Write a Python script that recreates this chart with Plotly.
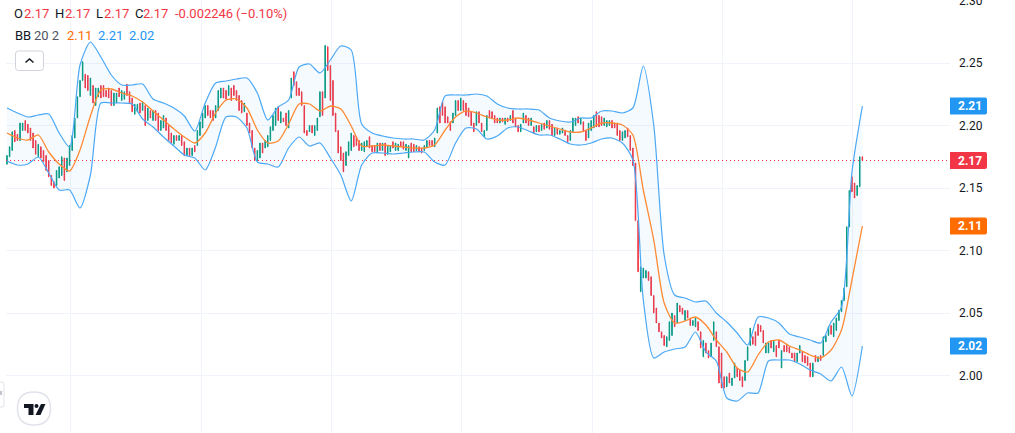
import plotly.graph_objects as go

FONT = "Roboto"
GREEN, RED, BLUE, ORANGE, INK = "#089981", "#F23645", "#2196F3", "#FF6D00", "#131722"

highs = [
 2.176,2.183,2.195,2.196,2.193,2.202,2.202,2.204,2.201,2.198,
 2.194,2.188,2.185,2.183,2.180,2.176,2.172,2.160,2.155,2.164,
 2.167,2.175,2.174,2.174,2.184,2.192,2.206,2.223,2.236,2.251,
 2.241,2.240,2.238,2.232,2.230,2.230,2.232,2.232,2.228,2.230,
 2.228,2.226,2.226,2.230,2.228,2.227,2.233,2.227,2.222,2.217,
 2.217,2.218,2.219,2.216,2.214,2.212,2.212,2.212,2.210,2.204,
 2.208,2.206,2.200,2.194,2.192,2.192,2.192,2.192,2.187,2.182,
 2.182,2.182,2.184,2.196,2.203,2.210,2.216,2.216,2.212,2.212,
 2.216,2.228,2.230,2.230,2.228,2.232,2.230,2.232,2.228,2.224,
 2.220,2.218,2.210,2.202,2.196,2.182,2.180,2.186,2.186,2.188,
 2.192,2.199,2.208,2.214,2.215,2.211,2.206,2.210,2.212,2.238,
 2.243,2.235,2.230,2.227,2.216,2.196,2.200,2.200,2.200,2.206,
 2.227,2.227,2.264,2.263,2.248,2.236,2.210,2.196,2.183,2.178,
 2.179,2.187,2.194,2.192,2.191,2.188,2.186,2.187,2.188,2.191,
 2.184,2.184,2.186,2.186,2.186,2.186,2.184,2.184,2.187,2.186,
 2.185,2.187,2.187,2.185,2.184,2.186,2.185,2.184,2.183,2.182,
 2.184,2.188,2.188,2.188,2.190,2.214,2.215,2.219,2.215,2.207,
 2.203,2.210,2.220,2.220,2.222,2.220,2.218,2.214,2.211,2.202,
 2.211,2.211,2.202,2.196,2.208,2.212,2.211,2.208,2.206,2.206,
 2.206,2.206,2.206,2.208,2.212,2.206,2.200,2.201,2.210,2.208,
 2.206,2.206,2.199,2.200,2.200,2.201,2.202,2.204,2.204,2.201,
 2.198,2.198,2.196,2.198,2.196,2.192,2.196,2.206,2.206,2.207,
 2.206,2.203,2.196,2.202,2.204,2.208,2.211,2.208,2.207,2.206,
 2.204,2.204,2.204,2.202,2.202,2.196,2.195,2.196,2.198,2.192,
 2.182,2.170,2.124,2.087,2.086,2.084,2.083,2.079,2.064,2.054,
 2.042,2.035,2.032,2.031,2.043,2.050,2.048,2.058,2.056,2.054,
 2.052,2.052,2.046,2.044,2.046,2.043,2.035,2.028,2.026,2.020,
 2.026,2.043,2.035,2.023,2.018,1.999,1.999,2.002,1.998,2.010,
 2.006,2.004,1.999,2.012,2.023,2.038,2.031,2.035,2.041,2.040,
 2.036,2.026,2.026,2.028,2.028,2.024,2.028,2.020,2.024,2.024,
 2.023,2.018,2.018,2.018,2.024,2.019,2.016,2.015,2.010,2.010,
 2.016,2.015,2.016,2.031,2.032,2.039,2.040,2.042,2.046,2.052,
 2.060,2.070,2.119,2.148,2.159,2.154,2.152,2.175,2.175,
]

lows = [
 2.169,2.175,2.180,2.187,2.188,2.188,2.196,2.196,2.194,2.188,
 2.182,2.177,2.175,2.174,2.171,2.164,2.159,2.152,2.150,2.152,
 2.158,2.160,2.156,2.163,2.168,2.180,2.190,2.206,2.223,2.236,
 2.230,2.228,2.224,2.218,2.216,2.223,2.222,2.223,2.223,2.222,
 2.216,2.216,2.218,2.223,2.220,2.221,2.224,2.218,2.211,2.209,
 2.211,2.210,2.212,2.200,2.204,2.206,2.204,2.204,2.196,2.196,
 2.198,2.196,2.188,2.186,2.185,2.188,2.188,2.184,2.176,2.176,
 2.176,2.176,2.179,2.184,2.192,2.198,2.206,2.208,2.206,2.204,
 2.206,2.212,2.222,2.222,2.221,2.224,2.220,2.224,2.220,2.212,
 2.210,2.211,2.200,2.194,2.182,2.172,2.172,2.174,2.178,2.182,
 2.183,2.188,2.196,2.200,2.204,2.202,2.203,2.200,2.198,2.222,
 2.232,2.224,2.224,2.216,2.194,2.192,2.195,2.194,2.192,2.196,
 2.207,2.208,2.222,2.244,2.220,2.208,2.195,2.178,2.172,2.163,
 2.168,2.176,2.180,2.183,2.184,2.180,2.180,2.179,2.183,2.182,
 2.179,2.179,2.178,2.180,2.180,2.176,2.177,2.179,2.182,2.180,
 2.180,2.183,2.181,2.180,2.174,2.179,2.179,2.180,2.179,2.178,
 2.180,2.182,2.184,2.184,2.183,2.194,2.202,2.208,2.202,2.202,
 2.196,2.202,2.208,2.212,2.212,2.212,2.208,2.207,2.200,2.195,
 2.200,2.202,2.195,2.191,2.196,2.206,2.206,2.202,2.202,2.202,
 2.203,2.201,2.203,2.204,2.202,2.199,2.195,2.195,2.202,2.202,
 2.200,2.200,2.194,2.195,2.195,2.196,2.197,2.198,2.197,2.192,
 2.192,2.193,2.193,2.194,2.192,2.187,2.188,2.195,2.200,2.202,
 2.201,2.195,2.188,2.190,2.196,2.198,2.199,2.199,2.200,2.200,
 2.199,2.200,2.198,2.198,2.192,2.188,2.188,2.190,2.191,2.180,
 2.168,2.124,2.083,2.067,2.078,2.078,2.076,2.064,2.050,2.042,
 2.035,2.030,2.024,2.023,2.028,2.032,2.039,2.042,2.051,2.049,
 2.044,2.046,2.040,2.040,2.039,2.036,2.022,2.015,2.018,2.014,
 2.015,2.028,2.023,1.994,1.990,1.990,1.991,1.994,1.992,1.998,
 1.999,1.996,1.991,1.996,2.012,2.024,2.025,2.024,2.032,2.035,
 2.026,2.018,2.018,2.022,2.019,2.015,2.022,2.006,2.019,2.019,
 2.018,2.014,2.011,2.011,2.018,2.011,2.010,2.008,1.999,1.999,
 2.011,2.011,2.012,2.016,2.027,2.032,2.033,2.031,2.036,2.044,
 2.051,2.060,2.071,2.119,2.147,2.142,2.144,2.151,2.172,
]

# g = close above open, r = close below open
directions = "".join([
 "gggrrggrrr","rrgrrrrrrg","ggrggggggg","rrgrggrrrr","rggrggrrrg",
 "grgrgrgrrg","grrrgrgrrg","rgrggggrrr","gggrrgrrrr","rgrrrrggrg",
 "ggggrgrrgg","rrrrrrgrgg","grgrrrrrrr","gggrrrgggr","rrgrgrggrg",
 "grrggrrgrr","ggrrggrrrr","rggrgrrrrr","grrggrrrrg","rgrgrrrggr",
 "rgrgrgrgrr","grggrrgggr","grrgggrrrg","ggrrrrggrr","rrrgggrrrr",
 "rrrgggrgrr","grrggrrgrr","ggrrrrgrgg","rrrgggrrrr","rggrgrrgrr",
 "rrrggrrrrg","rgrgggrggg","ggggrrggr",
])

bb_upper = [
 2.2140,2.2100,2.2068,2.2084,2.2092,2.1940,2.1828,2.2484,2.2668,2.2548,2.2404,2.2324,2.2324,2.2332,
 2.2212,2.2180,2.2140,2.2076,2.1956,2.2180,2.2340,2.2356,2.2372,2.2380,2.2260,2.2044,2.2148,2.2204,
 2.2468,2.2492,2.2420,2.2524,2.2636,2.2604,
 2.2012,2.1940,2.1916,2.1900,2.1892,2.1892,2.1884,2.1964,
 2.2236,2.2244,2.2244,2.2252,2.2236,2.2172,2.2140,2.2132,2.2132,2.2124,
 2.2060,2.2036,2.2028,2.2060,2.2060,2.2116,2.2116,2.2100,2.2140,2.2476,
 2.2004,2.0964,2.0644,2.0620,2.0588,2.0596,2.0500,2.0428,2.0340,2.0244,
 2.0468,2.0460,2.0420,2.0332,2.0308,2.0284,2.0260,2.0428,2.0548,2.1628,2.2156,
]

bb_lower = [
 2.1716,2.1684,2.1692,2.1748,2.1620,2.1484,2.1484,2.1340,2.1604,2.2180,2.2180,2.2180,2.2172,2.2052,
 2.1988,2.1908,2.1836,2.1764,2.1740,2.1644,2.1828,2.2068,2.2068,2.1980,2.1708,2.1692,2.1668,2.1820,
 2.1908,2.1836,2.1860,2.1740,2.1604,2.1396,
 2.1684,2.1780,2.1780,2.1772,2.1780,2.1788,2.1788,2.1708,
 2.1684,2.1860,2.1980,2.1972,2.1892,2.1916,2.1980,2.1988,2.1956,2.1924,
 2.1924,2.1892,2.1852,2.1844,2.1860,2.1892,2.1900,2.1860,2.1724,2.0604,
 2.0140,2.0188,2.0212,2.0228,2.0348,2.0188,2.0116,1.9820,1.9796,1.9860,
 1.9860,2.0116,2.0124,2.0124,2.0092,2.0044,2.0012,1.9956,2.0068,1.9836,2.0236,
]

bb_basis = [
 2.1940,2.1900,2.1884,2.1924,2.1788,2.1692,2.1636,2.1804,2.2076,2.2284,2.2292,2.2260,2.2236,2.2188,
 2.2116,2.2044,2.1972,2.1908,2.1860,2.1940,2.2100,2.2204,2.2212,2.2140,2.1964,2.1860,2.1876,2.2012,
 2.2172,2.2172,2.2116,2.2156,2.2132,2.1996,
 2.1836,2.1836,2.1844,2.1836,2.1828,2.1820,2.1820,2.1844,
 2.1964,2.2068,2.2116,2.2100,2.2068,2.2044,2.2044,2.2060,2.2044,2.2020,
 2.1996,2.1972,2.1948,2.1948,2.1980,2.2020,2.2020,2.2004,2.1924,2.1484,
 2.1084,2.0580,2.0420,2.0436,2.0468,2.0404,2.0284,2.0188,2.0060,2.0028,
 2.0164,2.0268,2.0284,2.0236,2.0204,2.0164,2.0140,2.0204,2.0364,2.0764,2.1196,
]

price_ticks = [2.00, 2.05, 2.10, 2.15, 2.20, 2.25, 2.30]
time_grid = [24.4, 74.4, 124.4, 174.4, 224.4, 274.4, 324.4]
last_price_label = "2.17"
basis_label, upper_label, lower_label = "2.11", "2.21", "2.02"

bar_index = list(range(len(highs)))
band_index = [i * 4 for i in range(len(bb_upper))]
opens = [l if d == "g" else h for h, l, d in zip(highs, lows, directions)]
closes = [h if d == "g" else l for h, l, d in zip(highs, lows, directions)]

W, H = 1015, 433
L, R = 6, 65
PW = W - L - R


def px(x):
    return (x - L) / PW


def py(y):
    return 1 - y / H


fig = go.Figure()
fig.add_trace(go.Candlestick(
    x=bar_index, open=opens, high=highs, low=lows, close=closes, whiskerwidth=0,
    increasing=dict(line=dict(color=GREEN, width=1), fillcolor=GREEN),
    decreasing=dict(line=dict(color=RED, width=1), fillcolor=RED),
    hoverinfo="skip",
))
band_line = dict(color="#4BA8F5", width=1.2, shape="spline", smoothing=0.7)
fig.add_trace(go.Scatter(x=band_index, y=bb_upper, mode="lines", line=band_line, hoverinfo="skip"))
fig.add_trace(go.Scatter(x=band_index, y=bb_lower, mode="lines", line=band_line, fill="tonexty",
                         fillcolor="rgba(33,150,243,0.05)", hoverinfo="skip"))
fig.add_trace(go.Scatter(x=band_index, y=bb_basis, mode="lines",
                         line=dict(color="#FF8A33", width=1.3, shape="spline", smoothing=0.7),
                         hoverinfo="skip"))

shapes = [dict(type="line", xref="paper", x0=0, x1=1, yref="y", y0=closes[-1], y1=closes[-1],
               line=dict(color=RED, width=1, dash="1px,3px"))]


def tag(value, text, color):
    shapes.append(dict(type="path", xref="paper", yref="y", xanchor=1, yanchor=value,
                       xsizemode="pixel", ysizemode="pixel", fillcolor=color,
                       line=dict(width=0),
                       path="M 0 -8.5 H 35 Q 37 -8.5 37 -6.5 V 6.5 Q 37 8.5 35 8.5 H 0 Z"))
    return dict(xref="paper", yref="y", x=1, y=value, xanchor="left", yanchor="middle", xshift=6,
                showarrow=False, text=f"<b>{text}</b>",
                font=dict(family=FONT, size=12, color="#ffffff"))


def chrome(path, line=None, fill=None, width=1):
    shapes.append(dict(type="path", xref="paper", yref="paper", path=path, fillcolor=fill,
                       line=dict(color=line, width=width) if line else dict(width=0)))


def pth(*cmds):
    out = []
    for c in cmds:
        if isinstance(c, str):
            out.append(c)
        else:
            out.append(f"{px(c[0]):.5f} {py(c[1]):.5f}")
    return " ".join(out)


def rrect(x0, y0, x1, y1, r):
    return pth("M", (x0 + r, y0), "L", (x1 - r, y0), "Q", (x1, y0), (x1, y0 + r), "L", (x1, y1 - r),
               "Q", (x1, y1), (x1 - r, y1), "L", (x0 + r, y1), "Q", (x0, y1), (x0, y1 - r),
               "L", (x0, y0 + r), "Q", (x0, y0), (x0 + r, y0), "Z")


annotations = [tag(closes[-1], last_price_label, RED), tag(bb_basis[-1], basis_label, ORANGE),
               tag(bb_upper[-1], upper_label, BLUE), tag(bb_lower[-1], lower_label, BLUE)]
annotations.append(dict(xref="paper", yref="y", x=1, y=price_ticks[-1], xanchor="left", yanchor="middle",
                        xshift=7, showarrow=False, text=f"{price_ticks[-1]:.2f}",
                        font=dict(family=FONT, size=12, color=INK)))


def label(x, y, text, color):
    annotations.append(dict(xref="paper", yref="paper", x=px(x), y=py(y), xanchor="left", yanchor="middle",
                            showarrow=False, text=text, borderpad=0,
                            font=dict(family=FONT, size=13, color=color)))


for x, t, c in [(13, "O", INK), (23, "2.17", RED), (54, "H", INK), (64, "2.17", RED), (95, "L", INK),
                (103, "2.17", RED), (134, "C", INK), (142, "2.17", RED), (173.5, "-0.002246", RED),
                (235, "(−0.10%)", RED)]:
    label(x, 13, t, c)
for x, t, c in [(14, "BB", INK), (33, "20 2", "#50535E"), (66, "2.11", ORANGE), (97, "2.21", BLUE),
                (128, "2.02", BLUE)]:
    label(x, 36, t, c)

# hide-indicators button, left tab and logo badge
chrome(rrect(15.5, 51, 43.5, 70.5, 3), line="#D1D4DC", fill="#FFFFFF")
chrome(pth("M", (25.5, 62.5), "L", (29.5, 59), "L", (33.5, 62.5)), line=INK, width=1.5)
chrome(pth("M", (-1, 382), "L", (2, 382), "Q", (4, 382), (4, 384), "L", (4, 405), "Q", (4, 407), (2, 407), "L", (-1, 407)),
       line="#E0E3EB", fill="#FFFFFF")
chrome(pth("M", (0, 391), "L", (2, 395), "M", (2, 391), "L", (0, 395)), line="#B2B5BE")
chrome(rrect(17.5, 392, 50.5, 425, 16.5), line="#E0E3EB", fill="#FFFFFF", width=1.5)
chrome(pth("M", (24, 404), "L", (33.5, 404), "L", (33.5, 415), "L", (28.5, 415), "L", (28.5, 408), "L", (24, 408), "Z"), fill=INK)
chrome(pth("M", (41, 404), "L", (45.5, 404), "L", (40.5, 415), "L", (35.5, 415), "Z"), fill=INK)
chrome(rrect(34.5, 404, 38.5, 408, 2), fill=INK)

grid = "#F0F3FA"
fig.update_layout(
    width=W, height=H, margin=dict(l=L, r=R, t=0, b=0), paper_bgcolor="#FFFFFF", plot_bgcolor="#FFFFFF",
    showlegend=False, hovermode=False, shapes=shapes, annotations=annotations, boxgap=0.72,
    font=dict(family=FONT, size=12, color=INK),
    xaxis=dict(range=[-0.38, 361.6], rangeslider=dict(visible=False), tickmode="array", tickvals=time_grid,
               showticklabels=False, ticks="", showgrid=True, gridcolor=grid, gridwidth=1, zeroline=False, showline=False),
    yaxis=dict(range=[1.9540, 2.3004], side="right", tickmode="array", tickvals=price_ticks,
               ticktext=[f"{v:.2f}" for v in price_ticks], ticks="", ticklabelstandoff=8,
               tickfont=dict(family=FONT, size=12, color=INK), showgrid=True, gridcolor=grid, gridwidth=1,
               zeroline=False, showline=False),
)

fig.write_html("out.html", config={"displayModeBar": False, "staticPlot": True},
               post_script="document.body.style.margin='0';document.documentElement.style.overflow='hidden';")
